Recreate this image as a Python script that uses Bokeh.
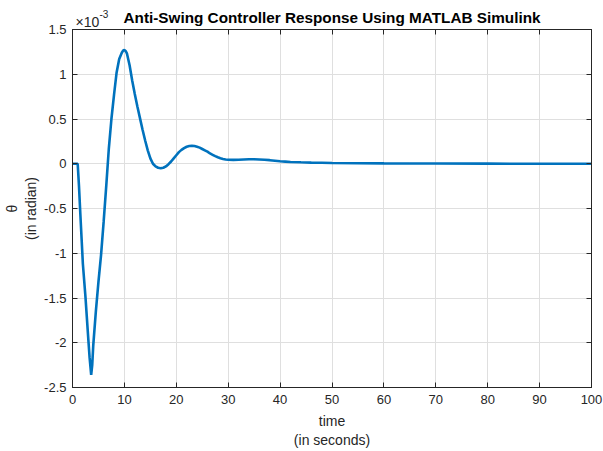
from bokeh.embed import file_html
from bokeh.layouts import column
from bokeh.models import FixedTicker, Grid, Label, LinearAxis, Range1d
from bokeh.plotting import figure
from bokeh.resources import INLINE

# Simulated pendulum swing angle (x 1e-3 rad) against time (s)
time_s = [
    0, 0.5, 1.0, 1.25, 1.5, 2.0, 2.5, 3.0, 3.3, 3.6, 3.8, 4.0, 4.5, 5.0, 5.5,
    6.0, 6.5, 7.0, 7.5, 8.0, 8.5, 9.0, 9.5, 9.75, 10.0, 10.25, 10.5, 11.0,
    11.5, 12.0, 12.5, 13.0, 13.5, 14.0, 14.5, 15.0, 15.5, 16.0, 16.5, 17.0,
    17.5, 18.0, 18.5, 19.0, 19.5, 20.0, 20.5, 21.0, 21.5, 22.0, 22.5, 23.0,
    23.5, 24.0, 24.5, 25.0, 25.5, 26.0, 26.5, 27.0, 27.5, 28.0, 28.5, 29.0,
    29.5, 30.0, 31, 32, 33, 34, 35, 36, 37, 38, 39, 40, 41, 42, 44, 46, 48,
    50, 55, 60, 65, 70, 80, 90, 100,
]
theta_e3 = [
    0, 0, 0, -0.25, -0.55, -1.12, -1.49, -1.92, -2.17, -2.36, -2.25, -2.03,
    -1.65, -1.32, -1.02, -0.65, -0.25, 0.17, 0.50, 0.77, 1.02, 1.17, 1.24,
    1.265, 1.27, 1.26, 1.23, 1.10, 0.93, 0.78, 0.64, 0.51, 0.38, 0.26, 0.15,
    0.06, 0.0, -0.03, -0.045, -0.05, -0.045, -0.03, -0.005, 0.025, 0.06,
    0.095, 0.13, 0.155, 0.175, 0.19, 0.198, 0.2, 0.198, 0.19, 0.18, 0.165,
    0.15, 0.135, 0.115, 0.1, 0.085, 0.072, 0.062, 0.054, 0.048, 0.045,
    0.043, 0.045, 0.048, 0.05, 0.05, 0.048, 0.045, 0.04, 0.034, 0.028,
    0.024, 0.02, 0.016, 0.013, 0.011, 0.009, 0.006, 0.004, 0.003, 0.002,
    0.001, 0.0005, 0.0,
]

x_ticks = [0, 10, 20, 30, 40, 50, 60, 70, 80, 90, 100]
y_ticks = [-2.5, -2, -1.5, -1, -0.5, 0, 0.5, 1, 1.5]
y_tick_labels = ["-2.5", "-2", "-1.5", "-1", "-0.5", "0", "0.5", "1", "1.5"]

title_text = "Anti-Swing Controller Response Using MATLAB Simulink"
scale_text = "×10"
scale_exp = "-3"
x_label = "time\n(in seconds)"
y_label = "θ\n(in radian)"

FONT = "Liberation Sans"
AX_COLOR = "#262626"
W = 603
HEAD_H = 28
OVERLAP = 7
MAIN_H = 451 - HEAD_H + OVERLAP

# ---- main axes ----
p = figure(
    width=W, height=MAIN_H,
    output_backend="svg", toolbar_location=None,
    x_range=Range1d(0, 100), y_range=Range1d(-2.5, 1.5),
    x_axis_type=None, y_axis_type=None,
    min_border_left=72, min_border_right=12,
    min_border_top=OVERLAP + 1, min_border_bottom=64,
    background_fill_color="white", border_fill_color=None,
    margin=(-OVERLAP, 0, 0, 0),
)
p.outline_line_color = AX_COLOR
p.outline_line_width = 1


def labelled_axis(ticker, label, standoff, label_standoff, overrides=None):
    ax = LinearAxis(ticker=ticker)
    ax.axis_line_color = AX_COLOR
    ax.major_tick_line_color = AX_COLOR
    ax.major_tick_in = 5
    ax.major_tick_out = 0
    ax.minor_tick_line_color = None
    ax.major_label_text_font = FONT
    ax.major_label_text_font_size = "13px"
    ax.major_label_text_color = AX_COLOR
    ax.major_label_standoff = standoff
    ax.axis_label = label
    ax.axis_label_text_font = FONT
    ax.axis_label_text_font_size = "14px"
    ax.axis_label_text_font_style = "normal"
    ax.axis_label_text_color = AX_COLOR
    ax.axis_label_standoff = label_standoff
    if overrides:
        ax.major_label_overrides = overrides
    return ax


def tick_only_axis(ticks):
    # ticks drawn as minor ticks so that no labels are produced
    ax = LinearAxis(ticker=FixedTicker(ticks=[], minor_ticks=ticks))
    ax.axis_line_color = AX_COLOR
    ax.major_tick_line_color = None
    ax.minor_tick_line_color = AX_COLOR
    ax.minor_tick_in = 5
    ax.minor_tick_out = 0
    ax.major_label_standoff = 0
    return ax


xt = FixedTicker(ticks=x_ticks)
yt = FixedTicker(ticks=y_ticks)

p.add_layout(labelled_axis(xt, x_label, 7, 6), "below")
p.add_layout(labelled_axis(yt, y_label, 6, 2,
                           overrides=dict(zip(y_ticks, y_tick_labels))), "left")
p.add_layout(tick_only_axis(x_ticks), "above")
p.add_layout(tick_only_axis(y_ticks), "right")

p.add_layout(Grid(dimension=0, ticker=xt, grid_line_color="#dfdfdf"))
p.add_layout(Grid(dimension=1, ticker=yt, grid_line_color="#dfdfdf"))

p.line(time_s, theta_e3, line_color="#0072BD", line_width=2.6)

# ---- header strip holding the title and the axis exponent ----
head = figure(
    width=W, height=HEAD_H, output_backend="svg", toolbar_location=None,
    x_range=p.x_range, y_range=Range1d(HEAD_H, 0),
    x_axis_type=None, y_axis_type=None, min_border=0,
    min_border_left=72, min_border_right=12,
    background_fill_color="white", border_fill_color="white",
)
head.outline_line_color = None
head.grid.visible = False
head.add_layout(Label(x=50, y=17, text=title_text, text_font=FONT,
                      text_font_size="15.3px", text_font_style="bold",
                      text_color="black", text_align="center",
                      text_baseline="middle"))
head.add_layout(Label(x=0, x_offset=3, y=21, text=scale_text, text_font=FONT,
                      text_font_size="14px", text_color=AX_COLOR,
                      text_align="left", text_baseline="alphabetic"))
head.add_layout(Label(x=0, x_offset=27, y=13, text=scale_exp, text_font=FONT,
                      text_font_size="10px", text_color=AX_COLOR,
                      text_align="left", text_baseline="alphabetic"))

layout = column(head, p, spacing=0)
open("out.html", "w").write(file_html(layout, INLINE))
